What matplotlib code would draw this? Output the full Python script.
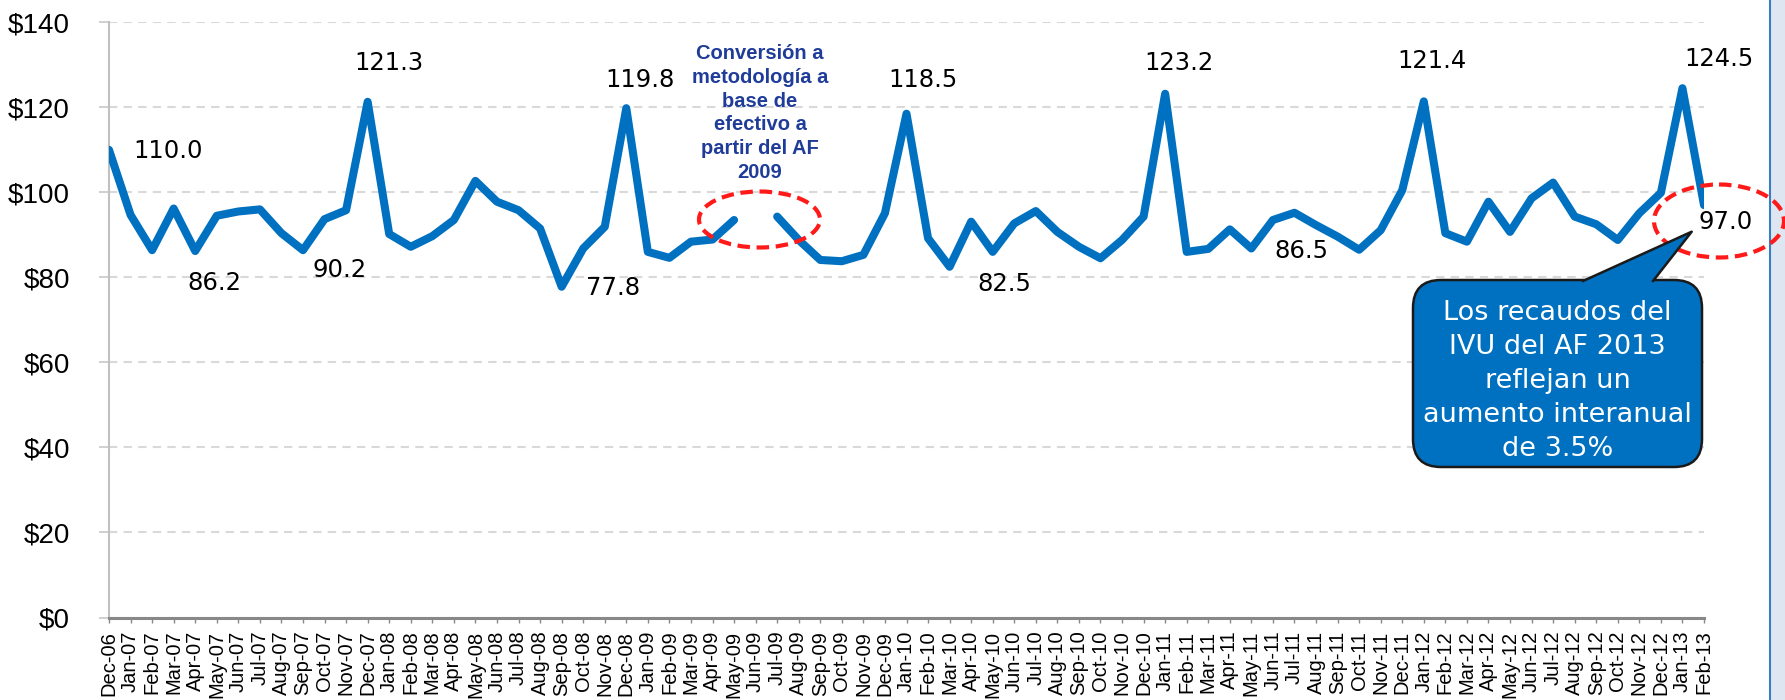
import numpy as np
import pandas as pd
import matplotlib.pyplot as plt
from matplotlib.patches import Ellipse, FancyBboxPatch, Polygon, Rectangle
from matplotlib.lines import Line2D

# Recaudos mensuales del IVU (millones de $), Dec-06 .. Feb-13; Jun-09 sin dato
months = pd.date_range('2006-12-01', '2013-02-01', freq='MS').strftime('%b-%y').tolist()
ivu = [110.0,
       94.7, 86.4, 96.2, 86.2, 94.5, 95.5, 96.0, 90.4, 86.4, 93.7, 95.8, 121.3,
       90.2, 87.2, 89.7, 93.5, 102.7, 97.8, 95.8, 91.5, 77.8, 86.8, 91.9, 119.8,
       86.0, 84.6, 88.4, 88.9, 93.5, np.nan, 94.3, 88.8, 84.1, 83.8, 85.3, 95.1,
       118.5, 89.2, 82.5, 93.1, 86.0, 92.7, 95.6, 90.7, 87.2, 84.5, 88.8, 94.3,
       123.2, 86.0, 86.7, 91.3, 86.8, 93.5, 95.2, 92.3, 89.6, 86.5, 91.1, 100.5,
       121.4, 90.4, 88.4, 97.8, 90.7, 98.6, 102.3, 94.3, 92.5, 88.8, 95.1, 99.9,
       124.5, 97.0]
yticks = [0, 20, 40, 60, 80, 100, 120, 140]

# labelled points and their label offsets (pixels, y down)
label_idx = [0, 4, 13, 12, 21, 24, 37, 39, 49, 58, 61, 73, 74]
label_dx = [59, 19, -50, 21, 51, 14, 16, 55, 14, -58, 8, 36, 22]
label_dy = [1, 32, 36, -39, 1, -28, -34, 17, -31, 1, -40, -29, 17]

note_text = 'Conversión a\nmetodología a\nbase de\nefectivo a\npartir del AF\n2009'
callout_text = 'Los recaudos del\nIVU del AF 2013\nreflejan un\naumento interanual\nde 3.5%'

BLUE = '#0070C0'
W, H = 1785, 700
fig = plt.figure(figsize=(W / 100, H / 100), dpi=100)
fig.patch.set_facecolor('white')

ax = fig.add_axes([109 / W, (H - 617.5) / H, (1704 - 109) / W, (617.5 - 22.3) / H])
x = np.arange(len(months))
ax.plot(x, ivu, color=BLUE, lw=5.8, solid_joinstyle='round', solid_capstyle='round', zorder=3)

ax.set_xlim(0, len(months) - 1)
ax.set_ylim(0, 140)
ax.set_yticks(yticks)
ax.set_yticklabels([f'${v}' for v in yticks], family='Liberation Sans', fontsize=20)
ax.set_xticks(x)
ax.set_xticklabels(months, rotation=90, family='Liberation Sans', fontsize=14.5)
ax.yaxis.grid(True, ls=(0, (4, 3)), color='#d9d9d9', lw=1.5)
ax.set_axisbelow(True)
for s in ['top', 'right']:
    ax.spines[s].set_visible(False)
ax.spines['left'].set_color('#c0c0c0')
ax.spines['left'].set_linewidth(1.5)
ax.spines['bottom'].set_color('#888888')
ax.spines['bottom'].set_linewidth(2.2)
ax.tick_params(axis='y', length=7.2, width=1.2, color='#c8c8c8', pad=21)
ax.tick_params(axis='x', length=3.5, width=1, color='#888888', pad=6)

for i, dx, dy in zip(label_idx, label_dx, label_dy):
    ax.annotate(f'{ivu[i]:.1f}', (x[i], ivu[i]), xytext=(dx * 0.72, -dy * 0.72),
                textcoords='offset points', ha='center', va='center',
                fontsize=17.5, family='DejaVu Sans', color='black', zorder=4)

# right side panel
fig.patches.append(Rectangle((1770 / W, 0), 15 / W, 1, transform=fig.transFigure,
                             fc='#dde6f1', ec='none'))
fig.add_artist(Line2D([1770 / W, 1770 / W], [0, 1], color='#3b7dc4', lw=1.5))

# overlay in pixel coordinates for annotations
ov = fig.add_axes([0, 0, 1, 1], zorder=5)
ov.set_xlim(0, W)
ov.set_ylim(H, 0)
ov.axis('off')
ov.patch.set_visible(False)

ov.text(760, 113, note_text, ha='center', va='center', family='Liberation Sans',
        fontweight='bold', fontsize=14.5, color='#1F3C99', linespacing=1.33)
ov.add_patch(Ellipse((759.5, 219.5), 121, 56, fill=False, ec='#ff1a1a', lw=3,
                     ls=(0, (3, 1.6))))
ov.add_patch(Ellipse((1719, 221), 130, 73, fill=False, ec='#ff1a1a', lw=3,
                     ls=(0, (3, 1.6)), clip_on=False))

EDGE = '#1a1a1a'
ov.add_patch(FancyBboxPatch((1413, 280), 289, 187,
                            boxstyle='round,pad=0,rounding_size=28',
                            fc=BLUE, ec=EDGE, lw=1.8, zorder=6))
ov.add_patch(Polygon([(1583, 281), (1691.7, 231.7), (1653, 281), (1653, 284), (1583, 284)],
                     closed=True, fc=BLUE, ec='none', zorder=7))
ov.plot([1583, 1691.7, 1653], [281, 231.7, 281], color=EDGE, lw=1.8, zorder=8)
ov.text(1557.5, 381, callout_text, ha='center', va='center', family='DejaVu Sans',
        fontsize=19.5, color='white', linespacing=1.39, zorder=9)

fig.savefig('out.png', dpi=100)
